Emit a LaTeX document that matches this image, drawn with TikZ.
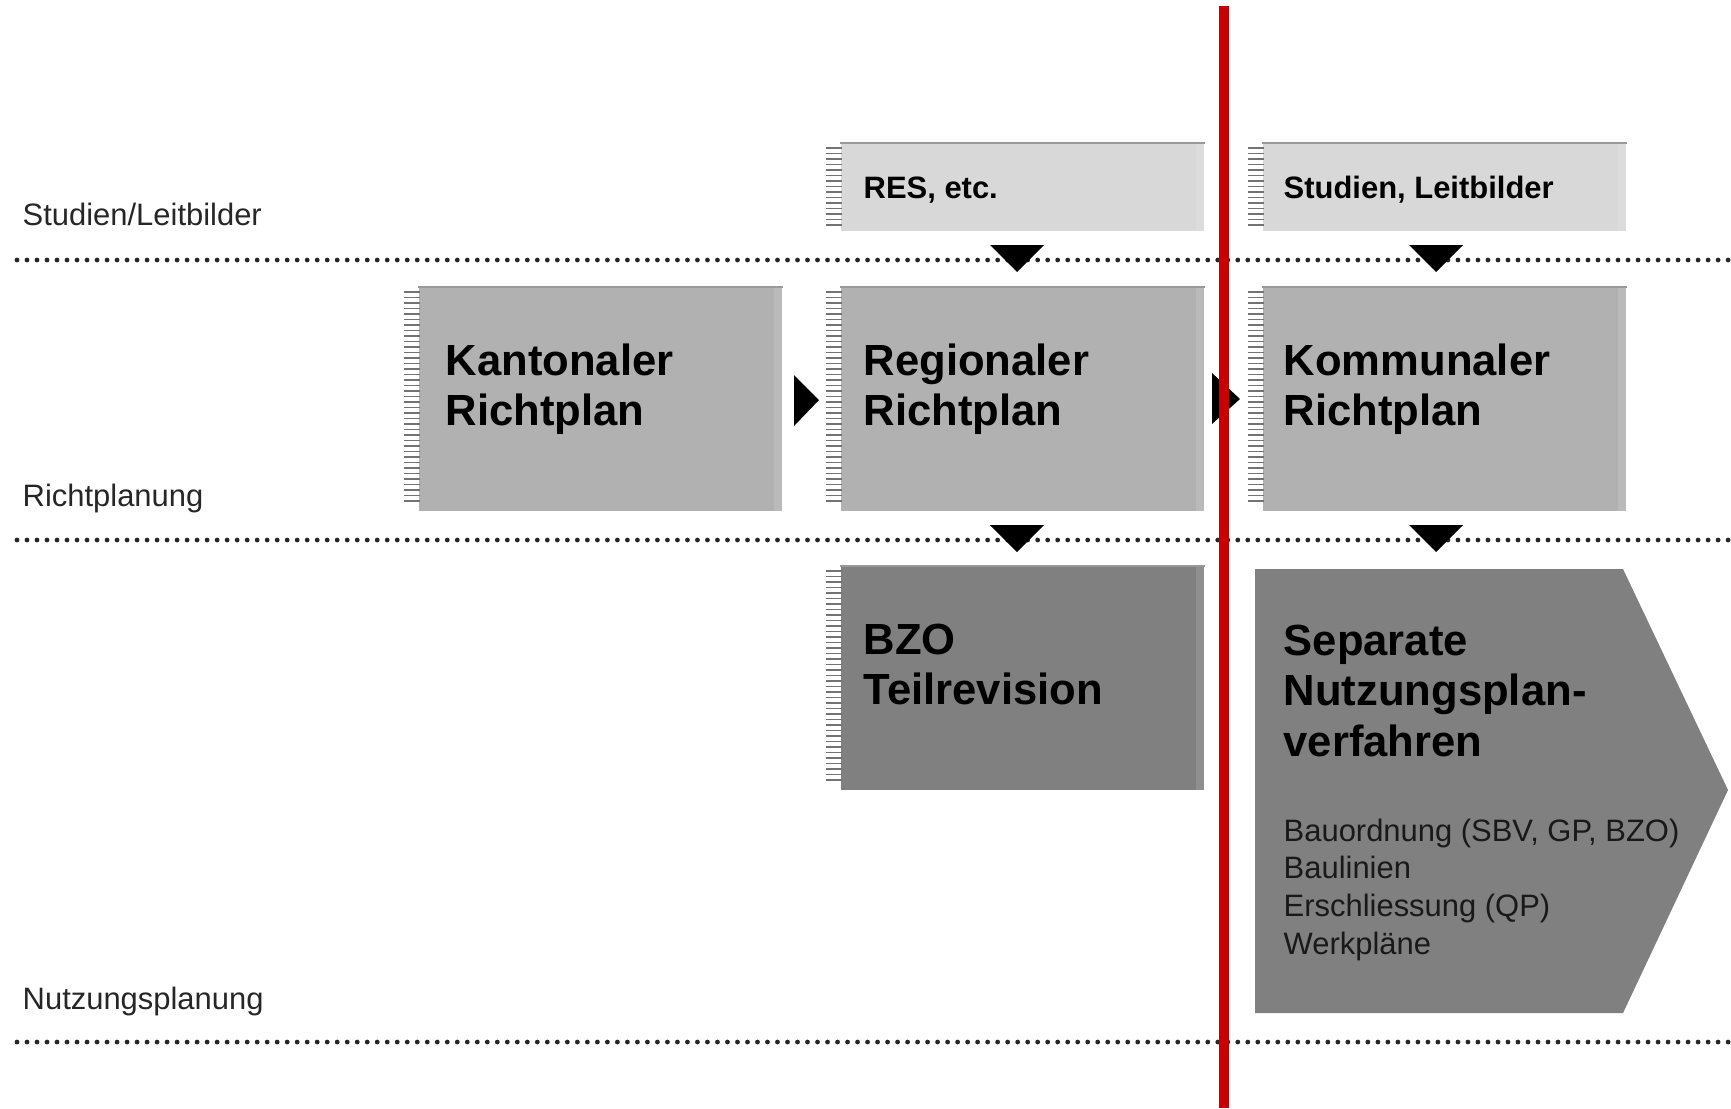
\documentclass[tikz,border=0pt]{standalone}
\usepackage{fontspec}
\setmainfont{Liberation Sans}
\usetikzlibrary{calc}
\definecolor{boxlight}{RGB}{216,216,216}
\definecolor{boxmid}{RGB}{177,177,177}
\definecolor{boxdark}{RGB}{128,128,128}
\definecolor{redline}{RGB}{200,0,0}
\begin{document}
\begin{tikzpicture}[x=0.01cm, y=-0.01cm]

      \tikzstyle{box_style} = [rectangle, inner sep=0pt, anchor=north west, minimum width=3.63cm]
        \tikzstyle{big_text} = [anchor=north west, inner sep=0pt, align=left, font=\fontsize{12.4}{14.4}\selectfont\bfseries]
        \tikzstyle{small_text} = [anchor=base west, inner sep=0pt, text=black!85, font=\fontsize{8.8}{10.7}\selectfont]
            \tikzstyle{tick_line} = [black!55, line width=0.015cm]
            \tikzstyle{dots} = [black!85, line width=0.048cm, line cap=round, dash pattern=on 0pt off 0.1cm]

      \useasboundingbox (0,0) rectangle (1731,1108);

      % level lines
      \foreach \y in {260, 540, 1042}
        \draw[dots] (17,\y) -- (1731,\y);

            \draw
              (418,287) node[box_style, fill=boxmid, minimum height=2.23cm] (1){}
              (840,143) node[box_style, fill=boxlight, minimum height=0.87cm] (2){}
              (840,287) node[box_style, fill=boxmid, minimum height=2.23cm] (3){}
              (840,566) node[box_style, fill=boxdark, minimum height=2.23cm] (4){}
              (1262,143) node[box_style, fill=boxlight, minimum height=0.87cm] (5){}
              (1262,287) node[box_style, fill=boxmid, minimum height=2.23cm] (6){};

      % comb edges, top rims and light right edges
      \foreach \b/\n in {1/38, 2/14, 3/38, 4/38, 5/14, 6/38} {
        \foreach \i in {0,...,\n}
          \draw[tick_line] ($(\b.north west)+(-14,5+5.5*\i)$) -- ++(16,0);
        \fill[white, opacity=0.12] ($(\b.north east)+(-9,0)$) rectangle (\b.south east);
        \draw[black!40, line width=0.02cm] (\b.north west) -- (\b.north east);
      }

      \fill[boxdark] (1255,569) -- (1623,569) -- (1728,790) -- (1623,1013) -- (1255,1013) -- cycle;

      % markers
      \fill (794,375) -- (819,400) -- (794,426) -- cycle;
      \fill (1212,373) -- (1240,399) -- (1212,424) -- cycle;
      \foreach \x/\y in {1017/245, 1436/245, 1017/525, 1436/525}
        \fill (\x-27,\y) -- (\x+27,\y) -- (\x,\y+27) -- cycle;

      \draw[redline, line width=0.1cm] (1224,6) -- (1224,1108);

      % texts
      \node[small_text] (10) at (22,225) {Studien/Leitbilder};
      \node[small_text] (11) at (22,506) {Richtplanung};
      \node[small_text] (12) at (22,1009) {Nutzungsplanung};
      \node[small_text, text=black, font=\fontsize{8.8}{10.7}\selectfont\bfseries] (13) at (863,198) {RES, etc.};
      \node[small_text, text=black, font=\fontsize{8.8}{10.7}\selectfont\bfseries] (14) at (1283,198) {Studien, Leitbilder};
      \node[big_text] (15) at (445,343) {Kantonaler\\Richtplan};
      \node[big_text] (16) at (863,343) {Regionaler\\Richtplan};
      \node[big_text] (17) at (1283,343) {Kommunaler\\Richtplan};
      \node[big_text] (18) at (863,623) {BZO\\Teilrevision};
      \node[big_text] (19) at (1283,624) {Separate\\Nutzungsplan-\\verfahren};
      \node[big_text, font=\fontsize{8.8}{10.7}\selectfont, text=black!90] (20) at (1283,818) {Bauordnung (SBV, GP, BZO)\\Baulinien\\Erschliessung (QP)\\Werkpläne};
    \end{tikzpicture}
\end{document}
